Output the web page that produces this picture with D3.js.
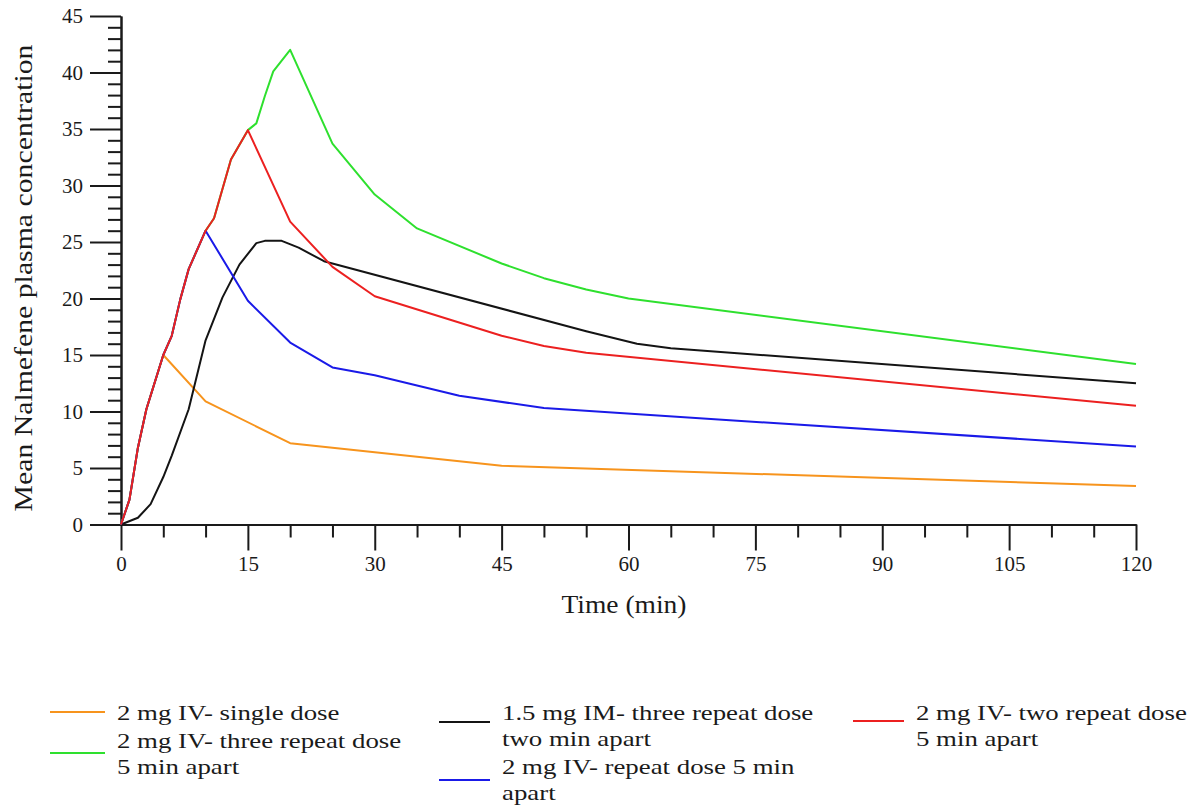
<!DOCTYPE html>
<html>
<head>
<meta charset="utf-8">
<script src="https://cdn.jsdelivr.net/npm/d3@7"></script>
<style>
  html, body { margin: 0; padding: 0; background: #fff; }
  svg { display: block; }
  text { font-family: "Liberation Serif", "Times New Roman", serif; fill: #1a1a1a; }
</style>
</head>
<body>
<svg id="chart" width="1203" height="806"></svg>
<script>
// Mean nalmefene plasma concentration versus time, five dosing regimens
const xTicks = [0, 15, 30, 45, 60, 75, 90, 105, 120];
const yTicks = [0, 5, 10, 15, 20, 25, 30, 35, 40, 45];

const seriesNames = [
  "2 mg IV- single dose",
  "2 mg IV- three repeat dose 5 min apart",
  "1.5 mg IM- three repeat dose two min apart",
  "2 mg IV- repeat dose 5 min apart",
  "2 mg IV- two repeat dose 5 min apart"
];
const seriesColors = ["#f7941d", "#2ee02e", "#141414", "#1a1ae8", "#ec2020"];

// sampling times (min) and concentrations per regimen
const singleTime = [0, 1, 2, 3, 5, 10, 20, 45, 120];
const singleConc = [0, 2.2, 6.8, 10.2, 15.0, 10.9, 7.2, 5.2, 3.4];

const threeIVTime = [0, 1, 2, 3, 5, 6, 7, 8, 10, 11, 13, 15, 16, 17, 18, 20, 25, 30, 35, 45, 50, 55, 60, 120];
const threeIVConc = [0, 2.2, 6.8, 10.2, 15.0, 16.7, 19.9, 22.6, 26.0, 27.1, 32.3, 34.9, 35.5, 37.9, 40.1, 42.0, 33.7, 29.2, 26.2, 23.1, 21.8, 20.8, 20.0, 14.2];

const imTime = [0, 2, 3.5, 5, 6, 8, 10, 12, 14, 16, 17, 19, 21, 24, 55, 61, 65, 120];
const imConc = [0, 0.6, 1.8, 4.2, 6.1, 10.2, 16.3, 20.1, 23.0, 24.9, 25.1, 25.1, 24.5, 23.3, 17.1, 16.0, 15.6, 12.5];

const repeatTime = [0, 1, 2, 3, 5, 6, 7, 8, 10, 15, 20, 25, 30, 40, 50, 120];
const repeatConc = [0, 2.2, 6.8, 10.2, 15.0, 16.7, 19.9, 22.6, 26.0, 19.8, 16.1, 13.9, 13.2, 11.4, 10.3, 6.9];

const twoIVTime = [0, 1, 2, 3, 5, 6, 7, 8, 10, 11, 13, 15, 20, 25, 30, 45, 50, 55, 120];
const twoIVConc = [0, 2.2, 6.8, 10.2, 15.0, 16.7, 19.9, 22.6, 26.0, 27.1, 32.3, 34.9, 26.8, 22.8, 20.2, 16.7, 15.8, 15.2, 10.5];

const seriesTimes = [singleTime, threeIVTime, imTime, repeatTime, twoIVTime];
const seriesConcs = [singleConc, threeIVConc, imConc, repeatConc, twoIVConc];

const svg = d3.select("#chart");
svg.append("rect").attr("width", 1203).attr("height", 806).attr("fill", "#fff");

const x = d3.scaleLinear().domain([0, 120]).range([121, 1136]);
const y = d3.scaleLinear().domain([0, 45]).range([524.5, 16]);

function styleAxis(g) {
  g.selectAll("path, line").attr("stroke", "#1a1a1a").attr("stroke-width", 2);
  g.selectAll("text").attr("font-size", 21).attr("fill", "#1a1a1a")
    .style("font-family", "'Liberation Serif', 'Times New Roman', serif");
}

// y axis: minor ticks every 1, major every 5
const yMinor = d3.range(0, 46).filter(v => v % 5 !== 0);
const gYMinor = svg.append("g").attr("transform", "translate(121,0)")
  .call(d3.axisLeft(y).tickValues(yMinor).tickSize(13).tickSizeOuter(0).tickFormat(""));
styleAxis(gYMinor);
const gY = svg.append("g").attr("transform", "translate(121,0)")
  .call(d3.axisLeft(y).tickValues(yTicks).tickSize(31).tickPadding(7).tickSizeOuter(0));
styleAxis(gY);

// x axis: minor ticks every 5 min, major every 15
const xMinor = d3.range(0, 121, 5).filter(v => v % 15 !== 0);
const gXMinor = svg.append("g").attr("transform", "translate(0,524.5)")
  .call(d3.axisBottom(x).tickValues(xMinor).tickSize(13).tickSizeOuter(0).tickFormat(""));
styleAxis(gXMinor);
const gX = svg.append("g").attr("transform", "translate(0,524.5)")
  .call(d3.axisBottom(x).tickValues(xTicks).tickSize(26).tickSizeOuter(0));
styleAxis(gX);
gX.selectAll(".tick text").attr("dy", null).attr("y", 46);

// axis titles
svg.append("text")
  .attr("x", 624).attr("y", 613)
  .attr("text-anchor", "middle")
  .attr("font-size", 25)
  .attr("textLength", 125).attr("lengthAdjust", "spacingAndGlyphs")
  .text("Time (min)");

svg.append("text")
  .attr("transform", "translate(32,278) rotate(-90)")
  .attr("text-anchor", "middle")
  .attr("font-size", 26)
  .attr("textLength", 467).attr("lengthAdjust", "spacingAndGlyphs")
  .text("Mean Nalmefene plasma concentration");

// concentration curves (red drawn last so the shared rising limb shows red)
const line = d3.line().x(d => x(d.t)).y(d => y(d.v));
[0, 1, 2, 3, 4].forEach(i => {
  const pts = seriesTimes[i].map((t, k) => ({ t: t, v: seriesConcs[i][k] }));
  svg.append("path")
    .datum(pts)
    .attr("fill", "none")
    .attr("stroke", seriesColors[i])
    .attr("stroke-width", 2)
    .attr("stroke-linejoin", "round")
    .attr("d", line);
});

// legend
const legendLayout = [
  { s: 0, x1: 50, x2: 105, ly: 712, tx: 117, ty: 720, lines: ["2 mg IV- single dose"] },
  { s: 1, x1: 50, x2: 105, ly: 753, tx: 117, ty: 748, lines: ["2 mg IV- three repeat dose", "5 min apart"] },
  { s: 2, x1: 439, x2: 490, ly: 722, tx: 502, ty: 720, lines: ["1.5 mg IM- three repeat dose", "two min apart"] },
  { s: 3, x1: 439, x2: 490, ly: 780, tx: 502, ty: 774, lines: ["2 mg IV- repeat dose 5 min", "apart"] },
  { s: 4, x1: 853, x2: 904, ly: 721, tx: 916, ty: 720, lines: ["2 mg IV- two repeat dose", "5 min apart"] }
];
const legend = svg.append("g");
legendLayout.forEach(item => {
  legend.append("line")
    .attr("x1", item.x1).attr("x2", item.x2)
    .attr("y1", item.ly).attr("y2", item.ly)
    .attr("stroke", seriesColors[item.s]).attr("stroke-width", 2);
  item.lines.forEach((txt, k) => {
    legend.append("text")
      .attr("transform", `translate(${item.tx},${item.ty + k * 26}) scale(1.22,1)`)
      .attr("font-size", 22)
      .text(txt);
  });
});
</script>
</body>
</html>
